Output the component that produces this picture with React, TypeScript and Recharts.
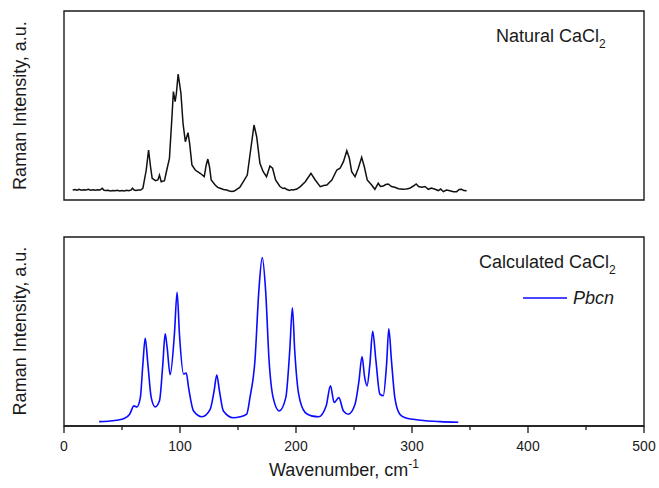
import { LineChart, Line, XAxis, YAxis, ReferenceArea } from 'recharts';

// Natural CaCl2 (measured), wavenumber in cm-1 and normalised intensity
const naturalWavenumber = [
  7.5, 9.5, 11, 13, 15, 17, 19, 21, 23, 25, 27, 29, 31, 33, 34.5, 36, 38, 40, 42, 44, 46, 48,
  50, 52, 54, 56, 58, 59, 60.5, 62, 64, 66, 68, 70.9, 72.9, 74.6, 76,
  78.9, 80.9, 82.3, 83.8, 86.6, 88.6, 90.9, 92.9, 94.3, 95.8, 96.9, 98.4, 100.8, 102.6, 104.6,
  106.9, 108.3, 110.3, 113.1, 117.4, 120.9, 122.6, 124, 125.4, 126.9, 130.3, 132.5, 134.6,
  137.5, 140.3, 142.5, 144.8, 146.8, 148.9, 151.5, 154.6, 158, 160.9, 163.8, 166.1, 168.9,
  171.7, 174.6, 177.5, 179.8, 182.4, 186, 188.8, 190.3, 191.8, 194.3, 196, 197.5, 199.2,
  200.8, 203.7, 208, 212.9, 216.6, 220.9, 223.8, 226.6,
  230.9, 235.2, 238, 240.9, 243.8, 246, 248, 250.9, 253.7, 256.6, 258.9, 261.4, 265.2, 268,
  270.9, 272.8, 275.2, 277.3, 279.5, 282.3, 285.2, 288.3, 292.3, 295.2, 298, 301.2, 303.6,
  305.7, 308.5, 311.2, 314.1, 316.7, 319.9, 322.7, 324.7, 327, 329.7, 332.7, 335.7, 338.5,
  340.7, 342.8, 344.7, 347.1,
];
const naturalIntensity = [
  0.079, 0.083, 0.078, 0.084, 0.077, 0.081, 0.079, 0.085, 0.078, 0.081, 0.077, 0.082, 0.079,
  0.093, 0.077, 0.075, 0.078, 0.072, 0.076, 0.073, 0.077, 0.072, 0.075, 0.072, 0.077, 0.074,
  0.08, 0.094, 0.079, 0.076, 0.08, 0.079, 0.093, 0.238, 0.397, 0.264, 0.172,
  0.153, 0.159, 0.198, 0.145, 0.153, 0.238,
  0.331, 0.635, 0.86, 0.78, 0.847, 1.0, 0.847, 0.609, 0.463, 0.534, 0.45, 0.278, 0.238, 0.212,
  0.185, 0.278, 0.325, 0.264, 0.159, 0.119, 0.1, 0.093, 0.083, 0.079, 0.072, 0.067, 0.071,
  0.085, 0.1, 0.145, 0.198, 0.397, 0.595, 0.502, 0.291, 0.225, 0.185, 0.27, 0.252, 0.159,
  0.109, 0.091, 0.095, 0.085, 0.075, 0.082, 0.079, 0.084, 0.087, 0.106, 0.145, 0.212, 0.159,
  0.106, 0.115, 0.119, 0.159, 0.238, 0.252, 0.304, 0.391,
  0.331, 0.225, 0.185, 0.252, 0.339, 0.264, 0.159, 0.119, 0.085, 0.133, 0.107, 0.111, 0.123,
  0.127, 0.107, 0.101, 0.089, 0.085, 0.087, 0.093, 0.111, 0.127, 0.107, 0.101, 0.107, 0.085,
  0.095, 0.085, 0.075, 0.087, 0.066, 0.079, 0.074, 0.066, 0.066, 0.083, 0.085, 0.075, 0.074,
];

// Calculated CaCl2, Pbcn
const calcWavenumber = [
  30.3, 38, 45.2, 52.3, 56.6, 60.3, 62.9, 65.8, 68, 70, 72.3, 75.2, 78.6, 82.3, 85.2, 87.2,
  88.9, 91.5, 95.2, 97.5, 99.5, 103.1, 105.4, 107.4, 111.7, 118.9, 126, 129.4, 131.7, 134,
  137.4, 146, 151.8, 157.5, 160.3, 164.6, 168, 170.9, 173.8, 176.8, 180.3, 185.5, 191.2,
  194.6, 196.9, 198.9, 202.3, 208, 213.3, 219.4, 226, 229.7, 232.9, 236.9, 240.9, 245.1,
  250.9, 254.3, 256.9, 259.2, 261.2, 263.7, 266.1, 268.9, 272.3, 275.2, 278.1, 280, 282.3,
  285.2, 289.5, 294.3, 300.9, 311.7, 324.2, 339.9,
];
const calcIntensity = [
  0.026, 0.028, 0.034, 0.046, 0.07, 0.119, 0.113, 0.168, 0.367, 0.52, 0.367, 0.168, 0.113,
  0.149, 0.367, 0.546, 0.466, 0.304, 0.546, 0.793, 0.546, 0.308, 0.314, 0.228, 0.089, 0.055,
  0.099, 0.208, 0.302, 0.208, 0.089, 0.049, 0.055, 0.071, 0.168, 0.387, 0.804, 0.998, 0.804,
  0.387, 0.168, 0.089, 0.168, 0.446, 0.701, 0.446, 0.189, 0.079, 0.06, 0.055, 0.119, 0.238,
  0.139, 0.168, 0.089, 0.07, 0.129, 0.268, 0.411, 0.288, 0.238, 0.367, 0.561, 0.387, 0.189,
  0.179, 0.367, 0.576, 0.387, 0.168, 0.07, 0.049, 0.04, 0.031, 0.026, 0.022,
];

const majorTicks = [0, 100, 200, 300, 400, 500];
const allTicks = [0, 50, 100, 150, 200, 250, 300, 350, 400, 450, 500];

const naturalData = naturalWavenumber.map((w, i) => ({ w, v: naturalIntensity[i] }));
const calcData = calcWavenumber.map((w, i) => ({ w, v: calcIntensity[i] }));

const FONT = '"Liberation Sans", Arial, sans-serif';
const INK = '#1a1a1a';

const TICK_SIZE = 7;
const TICK_MARGIN = 8;

function WaveTick(props: any) {
  const { x, y, payload } = props;
  const axisY = y - TICK_SIZE - TICK_MARGIN;
  const major = majorTicks.includes(payload.value);
  return (
    <g>
      <line x1={x} x2={x} y1={axisY} y2={axisY + (major ? 7 : 4)} stroke={INK} strokeWidth={1.3} />
      {major && (
        <text x={x} y={y} dy="0.71em" textAnchor="middle" fontSize={14} fontFamily={FONT} fill={INK}>
          {payload.value}
        </text>
      )}
    </g>
  );
}

export default function App() {
  return (
    <div style={{ position: 'absolute', left: 0, top: 0, width: 659, height: 488, background: '#fff' }}>
      <div style={{ position: 'absolute', left: 0, top: 0 }}>
        <LineChart width={659} height={210} data={naturalData} margin={{ top: 11, right: 15, bottom: 10, left: 64 }}>
          <XAxis dataKey="w" type="number" domain={[0, 500]} hide />
          <YAxis type="number" domain={[0, 1.5]} hide />
          <ReferenceArea x1={0} x2={500} y1={0} y2={1.5} fill="none" stroke={INK} strokeWidth={1.4} ifOverflow="visible" />
          <Line type="linear" dataKey="v" stroke="#111" strokeWidth={1.5} dot={false} isAnimationActive={false} />
        </LineChart>
      </div>
      <div style={{ position: 'absolute', left: 0, top: 226 }}>
        <LineChart width={659} height={230} data={calcData} margin={{ top: 11, right: 15, bottom: 0, left: 64 }}>
          <XAxis
            dataKey="w"
            type="number"
            domain={[0, 500]}
            ticks={allTicks}
            interval={0}
            height={30}
            tickSize={TICK_SIZE}
            tickMargin={TICK_MARGIN}
            tickLine={false}
            axisLine={{ stroke: INK, strokeWidth: 1.4 }}
            tick={<WaveTick />}
          />
          <YAxis type="number" domain={[0, 1.12]} hide />
          <ReferenceArea x1={0} x2={500} y1={0} y2={1.12} fill="none" stroke={INK} strokeWidth={1.4} ifOverflow="visible" />
          <Line type="monotone" dataKey="v" stroke="#0a0aff" strokeWidth={1.6} dot={false} isAnimationActive={false} />
        </LineChart>
      </div>
      <svg width={659} height={488} style={{ position: 'absolute', left: 0, top: 0, pointerEvents: 'none' }} fontFamily={FONT} fill={INK}>
        <text x={496} y={42} fontSize={18}>
          Natural CaCl<tspan fontSize={12} dy={6}>2</tspan>
        </text>
        <text x={479} y={268} fontSize={18}>
          Calculated CaCl<tspan fontSize={12} dy={6}>2</tspan>
        </text>
        <line x1={523} x2={567} y1={298} y2={298} stroke="#0a0aff" strokeWidth={1.6} />
        <text x={573} y={304} fontSize={18} fontStyle="italic">Pbcn</text>
        <text transform="translate(26,105.5) rotate(-90)" textAnchor="middle" fontSize={18}>
          Raman Intensity, a.u.
        </text>
        <text transform="translate(26,331) rotate(-90)" textAnchor="middle" fontSize={18}>
          Raman Intensity, a.u.
        </text>
        <text x={344} y={476} textAnchor="middle" fontSize={18}>
          Wavenumber, cm<tspan fontSize={12} dy={-8}>-1</tspan>
        </text>
      </svg>
    </div>
  );
}
